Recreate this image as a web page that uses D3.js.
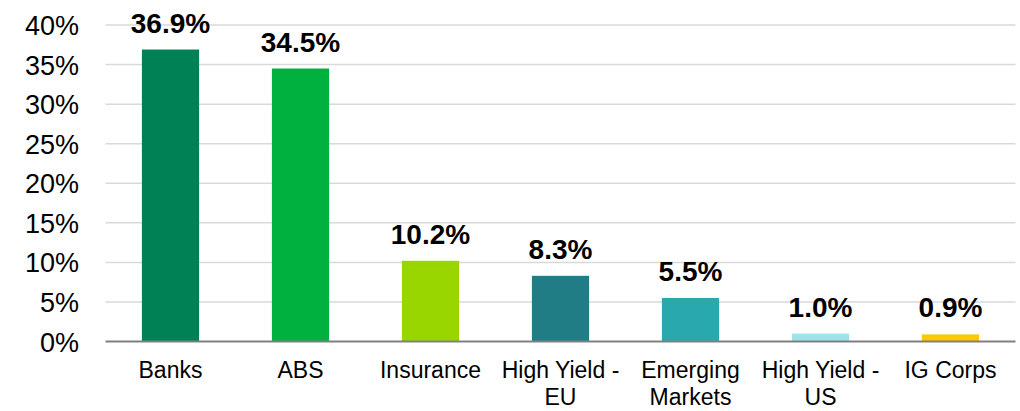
<!DOCTYPE html>
<html>
<head>
<meta charset="utf-8">
<script src="https://d3js.org/d3.v7.min.js"></script>
<style>
  body { margin: 0; background: #fff; }
  text { font-family: "Liberation Sans", Arial, sans-serif; fill: #000; }
</style>
</head>
<body>
<div id="chart"></div>
<script>
// chart data
var categories = ["Banks", "ABS", "Insurance", "High Yield - EU", "Emerging Markets", "High Yield - US", "IG Corps"];
var values = [36.9, 34.5, 10.2, 8.3, 5.5, 1.0, 0.9];
var tickLabels = [["Banks"], ["ABS"], ["Insurance"], ["High Yield -", "EU"], ["Emerging", "Markets"], ["High Yield -", "US"], ["IG Corps"]];
var colors = ["#008055", "#00B140", "#99D600", "#217D85", "#29A8AE", "#9FE3EA", "#FFC800"];
var yTicks = [0, 5, 10, 15, 20, 25, 30, 35, 40];

var width = 1020, height = 411;
var plotLeft = 105.5, plotRight = 1015.5, plotTop = 25, plotBottom = 341.5;

var svg = d3.select("#chart").append("svg")
    .attr("width", width)
    .attr("height", height);

var x = d3.scaleBand()
    .domain(categories)
    .range([plotLeft, plotRight])
    .paddingInner(0.56)
    .paddingOuter(0.28);

var y = d3.scaleLinear()
    .domain([0, 40])
    .range([plotBottom, plotTop]);

// gridlines
svg.append("g")
  .selectAll("line")
  .data(yTicks.filter(function(d){ return d > 0; }))
  .join("line")
    .attr("x1", plotLeft)
    .attr("x2", plotRight)
    .attr("y1", function(d){ return y(d); })
    .attr("y2", function(d){ return y(d); })
    .attr("stroke", "#d9d9d9")
    .attr("stroke-width", 1.5);

// y tick labels
svg.append("g")
  .selectAll("text")
  .data(yTicks)
  .join("text")
    .attr("x", 79)
    .attr("y", function(d){ return y(d) + 10; })
    .attr("text-anchor", "end")
    .style("font-size", "27px")
    .text(function(d){ return d + "%"; });

// bars
svg.append("g")
  .selectAll("rect")
  .data(values)
  .join("rect")
    .attr("x", function(d, i){ return x(categories[i]); })
    .attr("width", x.bandwidth())
    .attr("y", function(d){ return y(d); })
    .attr("height", function(d){ return y(0) - y(d); })
    .attr("fill", function(d, i){ return colors[i]; });

// baseline
svg.append("line")
    .attr("x1", plotLeft)
    .attr("x2", plotRight)
    .attr("y1", y(0))
    .attr("y2", y(0))
    .attr("stroke", "#808080")
    .attr("stroke-width", 2);

// value labels
svg.append("g")
  .selectAll("text")
  .data(values)
  .join("text")
    .attr("x", function(d, i){ return x(categories[i]) + x.bandwidth() / 2; })
    .attr("y", function(d){ return y(d) - 17; })
    .attr("text-anchor", "middle")
    .style("font-size", "28px")
    .style("font-weight", "bold")
    .text(function(d){ return d.toFixed(1) + "%"; });

// category labels
var cat = svg.append("g")
  .selectAll("text")
  .data(categories)
  .join("text")
    .attr("x", function(d){ return x(d) + x.bandwidth() / 2; })
    .attr("y", 378)
    .attr("text-anchor", "middle")
    .style("font-size", "23px");

cat.selectAll("tspan")
  .data(function(d, i){ return tickLabels[i]; })
  .join("tspan")
    .attr("x", function(){ return d3.select(this.parentNode).attr("x"); })
    .attr("dy", function(d, i){ return i === 0 ? 0 : 27; })
    .text(function(d){ return d; });
</script>
</body>
</html>
